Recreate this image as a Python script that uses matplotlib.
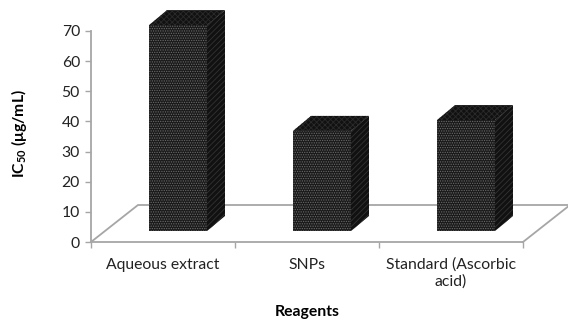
import matplotlib
matplotlib.use('Agg')
import matplotlib.pyplot as plt
import numpy as np
from matplotlib.patches import Polygon

categories = ['Aqueous extract', 'SNPs', 'Standard (Ascorbic\nacid)']
ic50_values = [68.3, 33.2, 36.8]
y_ticks = [0, 10, 20, 30, 40, 50, 60, 70]

W, H = 568, 322
GRID = '#a6a6a6'

plt.rcParams['font.family'] = ['Lato', 'DejaVu Sans']
plt.rcParams['mathtext.fontset'] = 'custom'
plt.rcParams['mathtext.bf'] = 'Lato:bold'
plt.rcParams['mathtext.rm'] = 'Lato'
plt.rcParams['hatch.linewidth'] = 0.6


def draw_box(ax, x0, x1, base, value, dx, dy):
  top = base + value
  faces = [
    ([(x0, base), (x1, base), (x1, top), (x0, top)], '#1a1a1a', '#6a6a6a', '.......'),
    ([(x1, base), (x1 + dx, base + dy), (x1 + dx, top + dy), (x1, top)], '#111111', '#333333', '//////'),
    ([(x0, top), (x1, top), (x1 + dx, top + dy), (x0 + dx, top + dy)], '#111111', '#2a2a2a', 'xxxxxx'),
  ]
  for pts, fc, hc, hatch in faces:
    ax.add_patch(Polygon(pts, closed=True, facecolor=fc, edgecolor=hc, hatch=hatch,
                         linewidth=0, clip_on=False, zorder=4))


fig = plt.figure(figsize=(W / 100, H / 100), dpi=100)
ax = fig.add_axes([91 / W, 1 - 242 / H, 432 / W, 211 / H])
ax.set_xlim(0, 3)
ax.set_ylim(0, 70)

for s in ['top', 'right']:
  ax.spines[s].set_visible(False)
for s in ['left', 'bottom']:
  ax.spines[s].set_color(GRID)
  ax.spines[s].set_linewidth(1.3)

ax.set_yticks(y_ticks)
ax.set_xticks([0, 1, 2, 3])
ax.set_xticklabels([])
ax.tick_params(axis='both', color=GRID, width=1, length=4.5, labelsize=11.3, labelcolor='#222222')
ax.tick_params(axis='y', pad=3.5)

# floor of the 3D box
px = 432 / 3
py = 211 / 70
floor_dx = 47 / px
floor_dy = 37 / py
ax.plot([0, floor_dx, 3 + floor_dx], [0, floor_dy, floor_dy], color=GRID, lw=1.3, clip_on=False, zorder=1)
ax.plot([3, 3 + floor_dx], [0, floor_dy], color=GRID, lw=1.3, clip_on=False, zorder=1)

bar_width = 58 / px
bar_shift = 15 / px
bar_base = 11 / py
depth_x = 18 / px
depth_y = 15 / py
for i, v in enumerate(ic50_values):
  x0 = i + 0.5 + bar_shift - bar_width / 2
  draw_box(ax, x0, x0 + bar_width, bar_base, v, depth_x, depth_y)

for i, label in enumerate(categories):
  ax.text(i + 0.5, -5.2, label, ha='center', va='top', fontsize=11.3, color='#222222',
          linespacing=1.2)

fig.text(307 / W, 1 - 312 / H, 'Reagents', ha='center', va='center', fontsize=11.3,
         fontweight='bold', color='black')
fig.text(19 / W, 1 - 134 / H, r'IC$_{\mathbf{50}}$ ($\mathbf{\mu}$g/mL)', rotation=90, ha='center',
         va='center', fontsize=11.3, fontweight='bold', color='black')

fig.savefig('out.png', dpi=100, facecolor='white')
